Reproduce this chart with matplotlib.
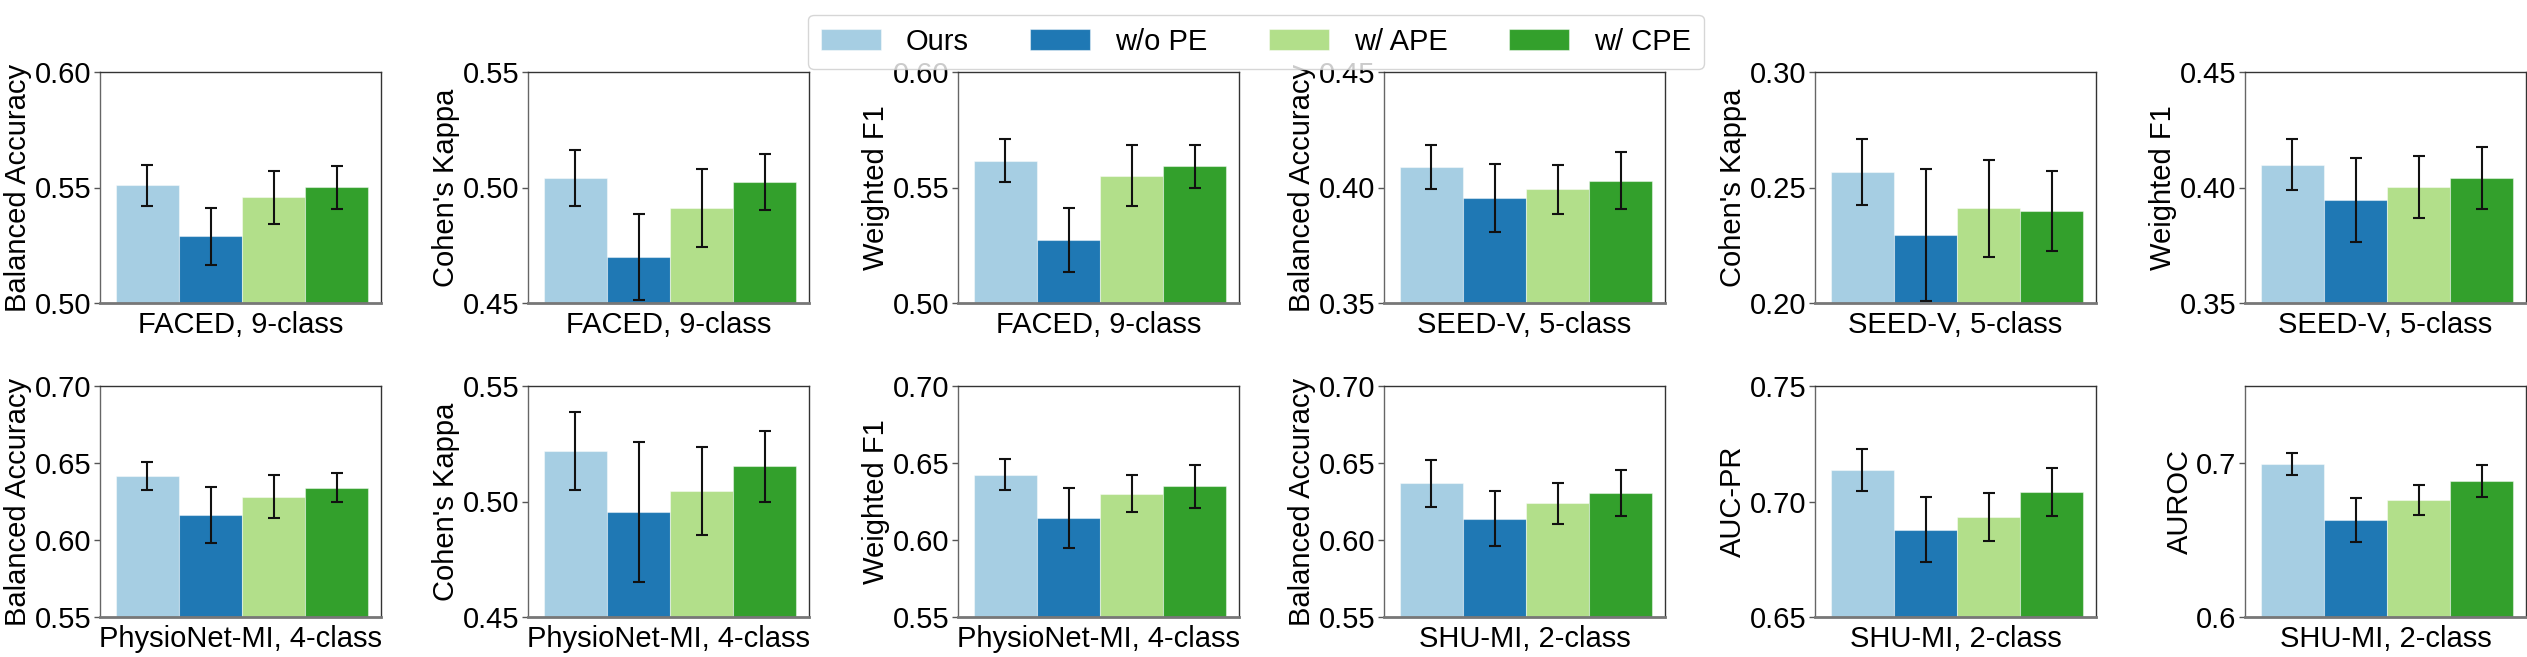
import numpy as np
import matplotlib
matplotlib.use("Agg")
import matplotlib.pyplot as plt
from matplotlib.ticker import FormatStrFormatter

plt.rcParams['font.family'] = ['Liberation Sans', 'DejaVu Sans']

methods = ["Ours", "w/o PE", "w/ APE", "w/ CPE"]
colors = ["#a6cee3", "#1f78b4", "#b2df8a", "#33a02c"]

datasets = ["FACED, 9-class", "FACED, 9-class", "FACED, 9-class",
            "SEED-V, 5-class", "SEED-V, 5-class", "SEED-V, 5-class",
            "PhysioNet-MI, 4-class", "PhysioNet-MI, 4-class", "PhysioNet-MI, 4-class",
            "SHU-MI, 2-class", "SHU-MI, 2-class", "SHU-MI, 2-class"]
metrics = ["Balanced Accuracy", "Cohen's Kappa", "Weighted F1",
           "Balanced Accuracy", "Cohen's Kappa", "Weighted F1",
           "Balanced Accuracy", "Cohen's Kappa", "Weighted F1",
           "Balanced Accuracy", "AUC-PR", "AUROC"]

# mean values per panel: [Ours, w/o PE, w/ APE, w/ CPE]
means = [
    [0.5509, 0.5288, 0.5457, 0.5501],
    [0.5040, 0.4699, 0.4911, 0.5024],
    [0.5615, 0.5273, 0.5551, 0.5592],
    [0.4089, 0.3955, 0.3992, 0.4030],
    [0.2567, 0.2294, 0.2410, 0.2398],
    [0.4099, 0.3945, 0.4002, 0.4040],
    [0.6414, 0.6161, 0.6282, 0.6339],
    [0.5219, 0.4955, 0.5046, 0.5153],
    [0.6425, 0.6144, 0.6300, 0.6349],
    [0.6367, 0.6138, 0.6239, 0.6304],
    [0.7137, 0.6878, 0.6933, 0.7041],
    [0.6993, 0.6628, 0.6761, 0.6883],
]
# standard deviations per panel
stds = [
    [0.0088, 0.0123, 0.0115, 0.0092],
    [0.0122, 0.0186, 0.0168, 0.0120],
    [0.0093, 0.0138, 0.0133, 0.0092],
    [0.0097, 0.0146, 0.0107, 0.0125],
    [0.0144, 0.0285, 0.0210, 0.0172],
    [0.0109, 0.0183, 0.0134, 0.0135],
    [0.0091, 0.0183, 0.0137, 0.0095],
    [0.0168, 0.0304, 0.0189, 0.0154],
    [0.0102, 0.0196, 0.0119, 0.0141],
    [0.0151, 0.0180, 0.0134, 0.0148],
    [0.0090, 0.0142, 0.0103, 0.0104],
    [0.0069, 0.0143, 0.0096, 0.0105],
]
ylims = [(0.50, 0.60), (0.45, 0.55), (0.50, 0.60),
         (0.35, 0.45), (0.20, 0.30), (0.35, 0.45),
         (0.55, 0.70), (0.45, 0.55), (0.55, 0.70),
         (0.55, 0.70), (0.65, 0.75), (0.60, 0.75)]
yticks = [[0.50, 0.55, 0.60], [0.45, 0.50, 0.55], [0.50, 0.55, 0.60],
          [0.35, 0.40, 0.45], [0.20, 0.25, 0.30], [0.35, 0.40, 0.45],
          [0.55, 0.60, 0.65, 0.70], [0.45, 0.50, 0.55], [0.55, 0.60, 0.65, 0.70],
          [0.55, 0.60, 0.65, 0.70], [0.65, 0.70, 0.75], [0.6, 0.7]]
yfmts = ['%.2f'] * 11 + ['%.1f']

W, H = 2527, 657
fig = plt.figure(figsize=(W / 100, H / 100), dpi=100)

FS = 21
col_left = [100, 528, 958, 1384, 1815, 2245]
ax_w = 281
row_top = [72, 386]
ax_h = 231

width = 0.2
offsets = (np.arange(4) - 1.5) * width

for i in range(12):
    r, c = divmod(i, 6)
    left = col_left[c] / W
    bottom = 1 - (row_top[r] + ax_h) / H
    ax = fig.add_axes([left, bottom, ax_w / W, ax_h / H])
    for j in range(4):
        ax.bar(offsets[j], means[i][j], width=width, color=colors[j],
               yerr=stds[i][j], capsize=4.3,
               edgecolor=(1, 1, 1, 0.45), linewidth=0.8,
               error_kw=dict(ecolor='#111111', elinewidth=1.5, capthick=1.5),
               label=methods[j], zorder=2)
    ax.set_ylim(*ylims[i])
    ax.set_yticks(yticks[i])
    ax.yaxis.set_major_formatter(FormatStrFormatter(yfmts[i]))
    ax.set_xticks([])
    ax.set_xlim(offsets[0] - width / 2 - 0.05, offsets[-1] + width / 2 + 0.04)
    ax.set_xlabel(datasets[i], fontsize=FS, labelpad=6)
    ax.set_ylabel(metrics[i], fontsize=FS, labelpad=2)
    ax.tick_params(axis='y', labelsize=FS, length=4, width=1, color='#555555', pad=2)
    for name, sp in ax.spines.items():
        sp.set_color('#333333')
        sp.set_linewidth(1.0)
    ax.spines['left'].set_color('#666666')
    ax.spines['bottom'].set_color('#777777')
    ax.spines['bottom'].set_linewidth(2.0)
    if i == 0:
        handles, labels = ax.get_legend_handles_labels()

leg = fig.legend(handles, labels, loc='upper center', bbox_to_anchor=(0.497, 1.0),
                 ncol=4, fontsize=FS, frameon=True, handlelength=2.05,
                 handletextpad=0.86, columnspacing=2.1, borderpad=0.45)
leg.get_frame().set_edgecolor('#cccccc')

fig.savefig("out.png", dpi=100)
